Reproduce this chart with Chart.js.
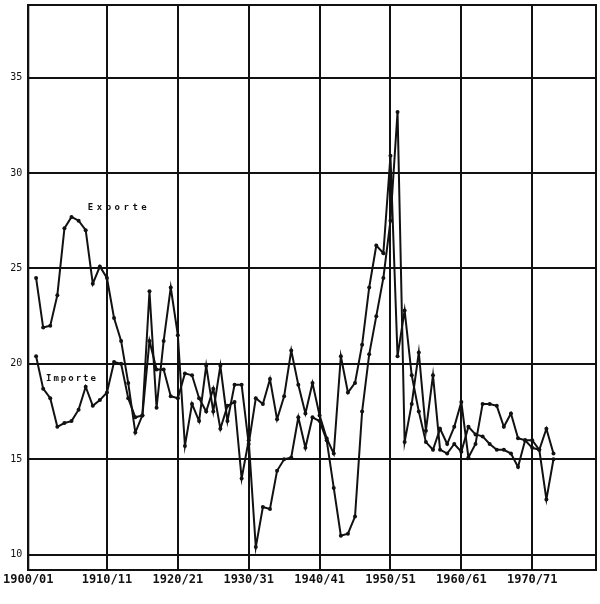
<!DOCTYPE html>
<html>
<head>
<meta charset="utf-8">
<script src="https://cdn.jsdelivr.net/npm/chart.js@4"></script>
<style>
  html, body { margin: 0; background: #fff; }
</style>
</head>
<body>
<canvas id="chart" width="600" height="604"></canvas>
<script>
// fiscal years, start year of each (1900 = 1900/01)
const years = [
  1900, 1901, 1902, 1903, 1904, 1905, 1906, 1907, 1908, 1909,
  1910, 1911, 1912, 1913, 1914, 1915, 1916, 1917, 1918, 1919,
  1920, 1921, 1922, 1923, 1924, 1925, 1926, 1927, 1928, 1929,
  1930, 1931, 1932, 1933, 1934, 1935, 1936, 1937, 1938, 1939,
  1940, 1941, 1942, 1943, 1944, 1945, 1946, 1947, 1948, 1949,
  1950, 1951, 1952, 1953, 1954, 1955, 1956, 1957, 1958, 1959,
  1960, 1961, 1962, 1963, 1964, 1965, 1966, 1967, 1968, 1969,
  1970, 1971, 1972, 1973
];

const exporte = [
  24.5, 21.9, 22.0, 23.6, 27.1, 27.7, 27.5, 27.0, 24.2, 25.1,
  24.5, 22.4, 21.2, 19.0, 16.4, 17.3, 23.8, 17.7, 21.2, 24.0,
  21.5, 15.7, 17.9, 17.0, 19.9, 17.5, 19.9, 17.0, 18.9, 18.9,
  15.8, 18.2, 17.9, 19.2, 17.1, 18.3, 20.7, 18.9, 17.4, 19.0,
  17.3, 16.1, 15.3, 20.4, 18.5, 19.0, 21.0, 24.0, 26.2, 25.8,
  30.9, 20.4, 22.8, 19.4, 17.5, 15.9, 15.5, 16.6, 15.8, 16.7,
  18.0, 15.1, 15.8, 17.9, 17.9, 17.8, 16.7, 17.4, 16.1, 16.0,
  16.0, 15.5, 16.6, 15.3
];

const importe = [
  20.4, 18.7, 18.2, 16.7, 16.9, 17.0, 17.6, 18.8, 17.8, 18.1,
  18.5, 20.1, 20.0, 18.2, 17.2, 17.3, 21.2, 19.7, 19.7, 18.3,
  18.2, 19.5, 19.4, 18.2, 17.5, 18.7, 16.6, 17.8, 18.0, 14.0,
  16.0, 10.4, 12.5, 12.4, 14.4, 15.0, 15.1, 17.2, 15.6, 17.2,
  17.0, 16.0, 13.5, 11.0, 11.1, 12.0, 17.5, 20.5, 22.5, 24.5,
  27.5, 33.2, 15.9, 17.9, 20.6, 16.5, 19.4, 15.5, 15.3, 15.8,
  15.4, 16.7, 16.3, 16.2, 15.8, 15.5, 15.5, 15.3, 14.6, 16.0,
  15.6, 15.5, 12.9, 15.0
];

const xMin = 1898.9;
const xMax = 1979;
const xTicks = [xMin, 1910, 1920, 1930, 1940, 1950, 1960, 1970];
const xTickLabels = ['1900/01', '1910/11', '1920/21', '1930/31', '1940/41', '1950/51', '1960/61', '1970/71'];
const yTicks = [10, 15, 20, 25, 30, 35];

const ink = '#111';

// closes the box round the plot and writes the two series names
const framePlugin = {
  id: 'frame',
  beforeDatasetsDraw(chart) {
    const { ctx, chartArea: a } = chart;
    ctx.save();
    ctx.strokeStyle = ink;
    ctx.lineWidth = 2;
    ctx.strokeRect(a.left, a.top, a.right - a.left, a.bottom - a.top);
    ctx.restore();
  },
  afterDatasetsDraw(chart) {
    const { ctx, scales: { x, y } } = chart;
    ctx.save();
    ctx.fillStyle = ink;
    ctx.font = 'bold 9px "DejaVu Sans Mono"';
    ctx.textBaseline = 'middle';
    ctx.letterSpacing = '3.5px';
    ctx.fillText('Exporte', x.getPixelForValue(1907.3), y.getPixelForValue(28.2));
    ctx.letterSpacing = '2px';
    ctx.fillText('Importe', x.getPixelForValue(1901.4), y.getPixelForValue(19.2));
    ctx.restore();
  }
};

function series(label, values) {
  return {
    label: label,
    data: years.map((yr, i) => ({ x: yr, y: values[i] })),
    borderColor: ink,
    borderWidth: 2,
    pointRadius: 2,
    pointBackgroundColor: ink,
    pointBorderWidth: 0,
    tension: 0
  };
}

const ctx = document.getElementById('chart').getContext('2d');
new Chart(ctx, {
  type: 'line',
  data: {
    datasets: [series('Exporte', exporte), series('Importe', importe)]
  },
  options: {
    responsive: false,
    animation: false,
    layout: { padding: { top: 5, right: 4, left: 0, bottom: 0 } },
    plugins: {
      legend: { display: false },
      tooltip: { enabled: false }
    },
    scales: {
      x: {
        type: 'linear',
        min: xMin,
        max: xMax,
        afterBuildTicks: s => { s.ticks = xTicks.map(v => ({ value: v })); },
        afterFit: s => { s.height = 34; },
        ticks: {
          autoSkip: false,
          maxRotation: 0,
          padding: 3,
          color: ink,
          font: { family: 'DejaVu Sans Mono', size: 12, weight: 'bold' },
          callback: (v, i) => xTickLabels[i]
        },
        grid: { color: ink, lineWidth: 2, drawTicks: false },
        border: { color: ink, width: 2 }
      },
      y: {
        min: 9.2,
        max: 38.8,
        afterBuildTicks: s => { s.ticks = yTicks.map(v => ({ value: v })); },
        afterFit: s => { s.width = 27; s.paddingTop = 0; s.paddingBottom = 0; },
        ticks: {
          padding: 6,
          color: ink,
          font: { family: 'DejaVu Sans Mono', size: 10 }
        },
        grid: { color: ink, lineWidth: 2, drawTicks: false },
        border: { color: ink, width: 2 }
      }
    }
  },
  plugins: [framePlugin]
});
</script>
</body>
</html>
